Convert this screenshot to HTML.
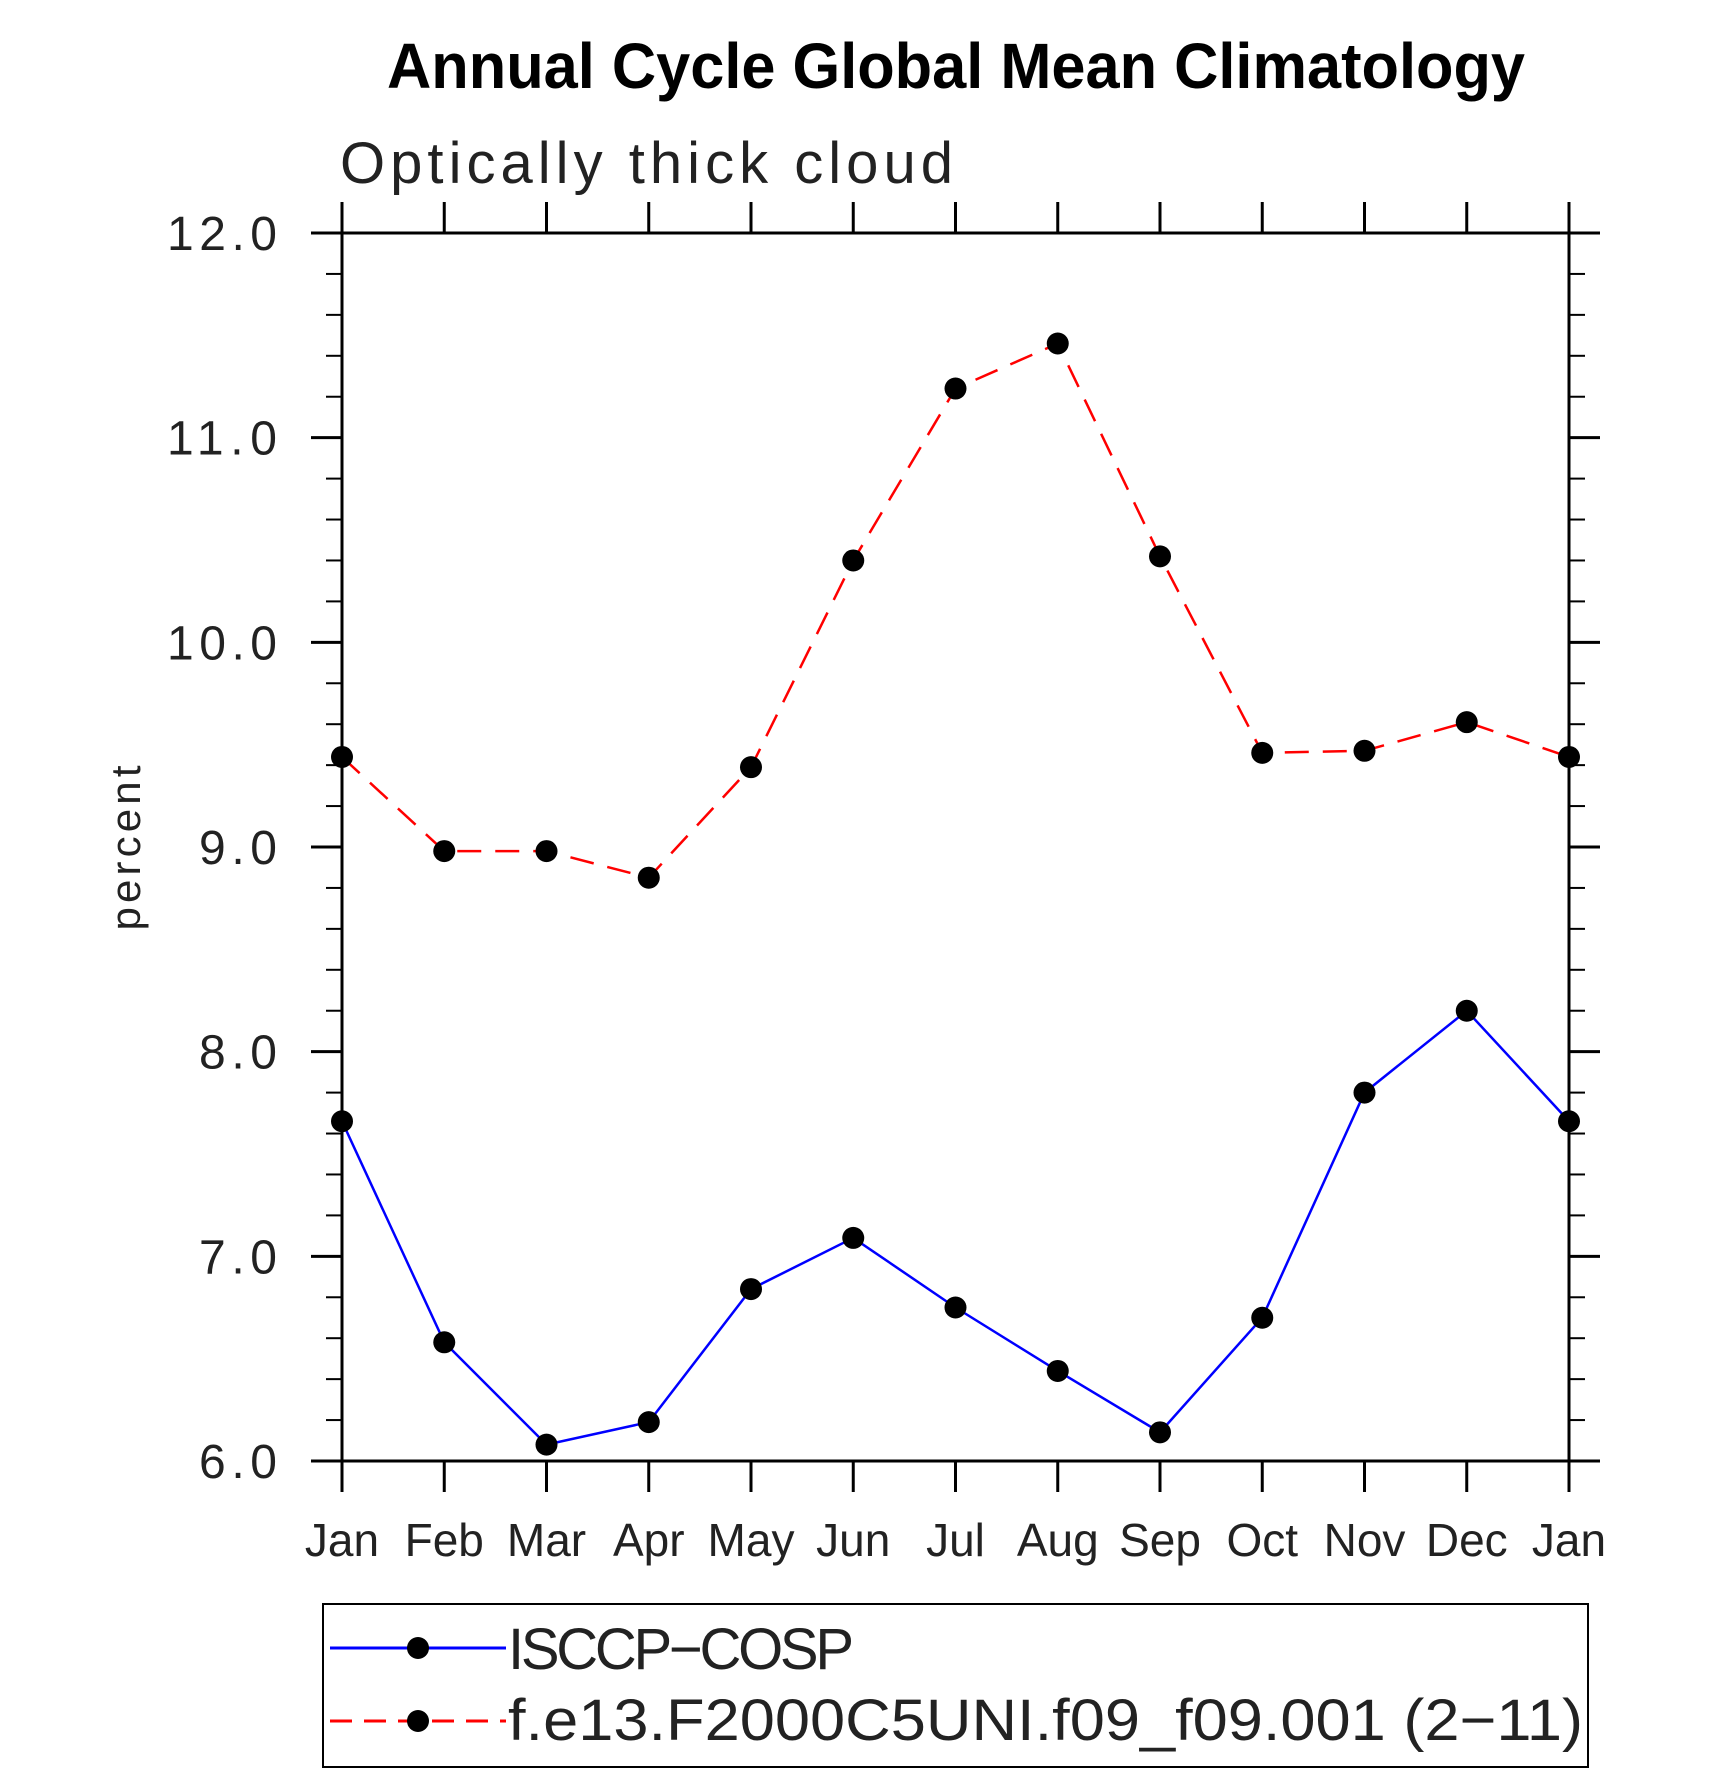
<!DOCTYPE html>
<html><head><meta charset="utf-8"><style>
html,body{margin:0;padding:0;background:#fff;}
svg{display:block;font-family:"Liberation Sans",sans-serif;}
</style></head><body>
<svg id="chart" width="1710" height="1773" viewBox="0 0 1710 1773" xmlns="http://www.w3.org/2000/svg">
<text x="387" y="88" font-size="64" font-weight="bold" textLength="1138" lengthAdjust="spacingAndGlyphs">Annual Cycle Global Mean Climatology</text>
<text x="340" y="183" font-size="58" fill="#222" textLength="613" lengthAdjust="spacing">Optically thick cloud</text>
<text transform="translate(140,848) rotate(-90)" text-anchor="middle" font-size="42" fill="#222" textLength="165" lengthAdjust="spacing">percent</text>
<g id="axes"></g>
<g id="series"></g>
<rect x="323" y="1604" width="1265" height="163" fill="none" stroke="#000" stroke-width="2"/>
<g>
<line x1="330" y1="1648" x2="506" y2="1648" stroke="#0000ff" stroke-width="3"/>
<circle cx="418" cy="1648" r="11" fill="#000"/>
<text x="508" y="1669" font-size="58" fill="#222" textLength="346" lengthAdjust="spacing">ISCCP−COSP</text>
</g>
<g>
<line x1="330" y1="1721" x2="506" y2="1721" stroke="#ff0000" stroke-width="3" stroke-dasharray="22,12"/>
<circle cx="418" cy="1721" r="11" fill="#000"/>
<text x="508" y="1740" font-size="58" fill="#222" textLength="1075" lengthAdjust="spacingAndGlyphs">f.e13.F2000C5UNI.f09_f09.001 (2−11)</text>
</g>
</svg>
<script>
const months = ["Jan","Feb","Mar","Apr","May","Jun","Jul","Aug","Sep","Oct","Nov","Dec","Jan"];
const isccp = [7.66,6.58,6.08,6.19,6.84,7.09,6.75,6.44,6.14,6.70,7.80,8.20,7.66];
const model = [9.44,8.98,8.98,8.85,9.39,10.40,11.24,11.46,10.42,9.46,9.47,9.61,9.44];
const yTicks = [6,7,8,9,10,11,12];
const yTickLabels = ["6.0","7.0","8.0","9.0","10.0","11.0","12.0"];

const L=342,R=1569,T=233,B=1461,yMin=6,yMax=12;
const xs=i=>L+(R-L)*i/(months.length-1);
const ys=v=>B-(B-T)*(v-yMin)/(yMax-yMin);
const NS="http://www.w3.org/2000/svg";
function mk(tag,attrs,parent){const e=document.createElementNS(NS,tag);for(const k in attrs)e.setAttribute(k,attrs[k]);parent.appendChild(e);return e;}
const ax=document.getElementById('axes');
const frame=mk('rect',{x:L,y:T,width:R-L,height:B-T,fill:'none',stroke:'#000','stroke-width':3},ax);


months.forEach((m,i)=>{
  const x=xs(i);
  mk('line',{x1:x,y1:B,x2:x,y2:B+31,stroke:'#000','stroke-width':3},ax);
  mk('line',{x1:x,y1:T,x2:x,y2:T-31,stroke:'#000','stroke-width':3},ax);
  const t=mk('text',{x:x,y:1556,'text-anchor':'middle','font-size':46,fill:'#222'},ax);
  t.textContent=m;
  
  
});
for(let v=yMin;v<=yMax+1e-9;v+=0.2){
  const y=ys(v);
  const major=Math.abs(v-Math.round(v))<1e-6;
  const len=major?31:16;
  mk('line',{x1:L-len,y1:y,x2:L,y2:y,stroke:'#000','stroke-width':major?3:2},ax);
  mk('line',{x1:R,y1:y,x2:R+len,y2:y,stroke:'#000','stroke-width':major?3:2},ax);
}
yTicks.forEach((v,i)=>{
  const lbl=yTickLabels[i];
  const t=mk('text',{x:277,y:ys(v)+17,'text-anchor':'end','font-size':48,fill:'#222',textLength:lbl.length>3?110:78,lengthAdjust:'spacing'},ax);
  t.textContent=lbl;
  
  
});
const sg=document.getElementById('series');
function drawSeries(vals,color,dash,name){
  const pts=vals.map((v,i)=>xs(i)+','+ys(v)).join(' ');
  const pl=mk('polyline',{points:pts,fill:'none',stroke:color,'stroke-width':2.5},sg);
  if(dash)pl.setAttribute('stroke-dasharray',dash);
  
  
  vals.forEach((v,i)=>{
    const c=mk('circle',{cx:xs(i),cy:ys(v),r:11,fill:'#000'},sg);
    
    
  });
}
drawSeries(isccp,'#0000ff',null,'isccp-cosp');
drawSeries(model,'#ff0000','24,14','model-run');
</script>
</body></html>
